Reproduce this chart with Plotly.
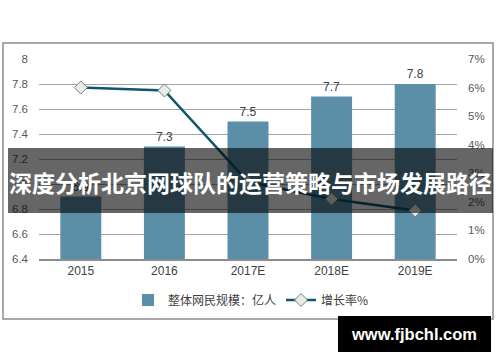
import plotly.graph_objects as go

categories = ["2015", "2016", "2017E", "2018E", "2019E"]
scale_values = [6.9, 7.3, 7.5, 7.7, 7.8]
growth_values = [6.0, 5.9, 2.7, 2.1, 1.7]
bar_name = "整体网民规模：亿人"
line_name = "增长率%"
banner_text = "深度分析北京网球队的运营策略与市场发展路径"
watermark_text = "www.fjbchl.com"

# plot area in pixels
L, R, T, B = 39, 457, 59, 259
W, H = 500, 362


def px(x):
    return (x - L) / (R - L)


def py(y):
    return (B - y) / (B - T)


tick_font = dict(family="Liberation Sans, Arial, sans-serif", size=11.5, color="#595959")

fig = go.Figure()
fig.add_trace(go.Bar(
    x=categories, y=scale_values, name=bar_name,
    marker=dict(color="#5b8fa8", line=dict(width=0)),
    width=0.49,
    text=[f"{v:.1f}" for v in scale_values],
    textposition="outside",
    textfont=dict(family="Liberation Sans, Arial, sans-serif", size=12, color="#404040"),
    cliponaxis=False,
))
fig.add_trace(go.Scatter(
    x=categories, y=growth_values, name=line_name, yaxis="y2",
    mode="lines+markers",
    line=dict(color="#0e566f", width=2.5),
    marker=dict(symbol="diamond", size=10, color="#ebebe0",
                line=dict(color="#5f8393", width=1)),
))

shapes = [
    # outer frame
    dict(type="rect", xref="paper", yref="paper",
         x0=px(3), x1=px(493), y0=py(319), y1=py(43),
         line=dict(color="#8c8c8c", width=1.5), fillcolor="rgba(0,0,0,0)", layer="below"),
    # banner
    dict(type="rect", xref="paper", yref="paper",
         x0=px(8), x1=px(493), y0=py(213), y1=py(148),
         line=dict(width=0), fillcolor="rgba(0,0,0,0.6)", layer="above"),
    # watermark box
    dict(type="rect", xref="paper", yref="paper",
         x0=px(338), x1=px(491), y0=py(352), y1=py(316),
         line=dict(width=0), fillcolor="#000000", layer="above"),
]

annotations = [
    dict(text=f"<b>{banner_text}</b>", xref="paper", yref="paper",
         x=px(250), y=py(182), xanchor="center", yanchor="middle", showarrow=False,
         font=dict(family="Noto Sans CJK SC, sans-serif", size=23, color="#ffffff")),
    dict(text=f"<b>{watermark_text}</b>", xref="paper", yref="paper",
         x=px(414), y=py(334), xanchor="center", yanchor="middle", showarrow=False,
         font=dict(family="Liberation Sans, Arial, sans-serif", size=16.5, color="#ffffff")),
]

fig.update_layout(
    width=W, height=H,
    margin=dict(l=L, r=W - R, t=T, b=H - B, pad=0, autoexpand=False),
    paper_bgcolor="#ffffff", plot_bgcolor="#ffffff",
    showlegend=True,
    legend=dict(orientation="h", x=px(251), y=py(300), xanchor="center", yanchor="middle",
                font=dict(family="Noto Sans CJK SC, sans-serif", size=12, color="#404040"),
                bgcolor="rgba(0,0,0,0)", itemwidth=30, tracegroupgap=0),
    bargap=0.51,
    xaxis=dict(showline=True, linecolor="#8c8c8c", linewidth=1.5, ticks="",
               tickfont=dict(family="Liberation Sans, Arial, sans-serif", size=12, color="#404040"),
               showgrid=False, zeroline=False, automargin=False),
    yaxis=dict(range=[6.4, 8.0], dtick=0.2, tick0=6.4, showgrid=True,
               gridcolor="#a6a6a6", gridwidth=1, zeroline=False, showline=False,
               ticks="", tickfont=tick_font, ticklabelstandoff=10, automargin=False),
    yaxis2=dict(range=[0, 7], dtick=1, tick0=0, overlaying="y", side="right",
                showgrid=False, zeroline=False, showline=False, ticks="",
                ticksuffix="%", tickfont=tick_font, ticklabelstandoff=10, automargin=False),
    shapes=shapes,
    annotations=annotations,
)

fig.write_html("out.html", config={"displayModeBar": False},
               post_script="document.body.style.margin='0';document.body.style.overflow='hidden';")
